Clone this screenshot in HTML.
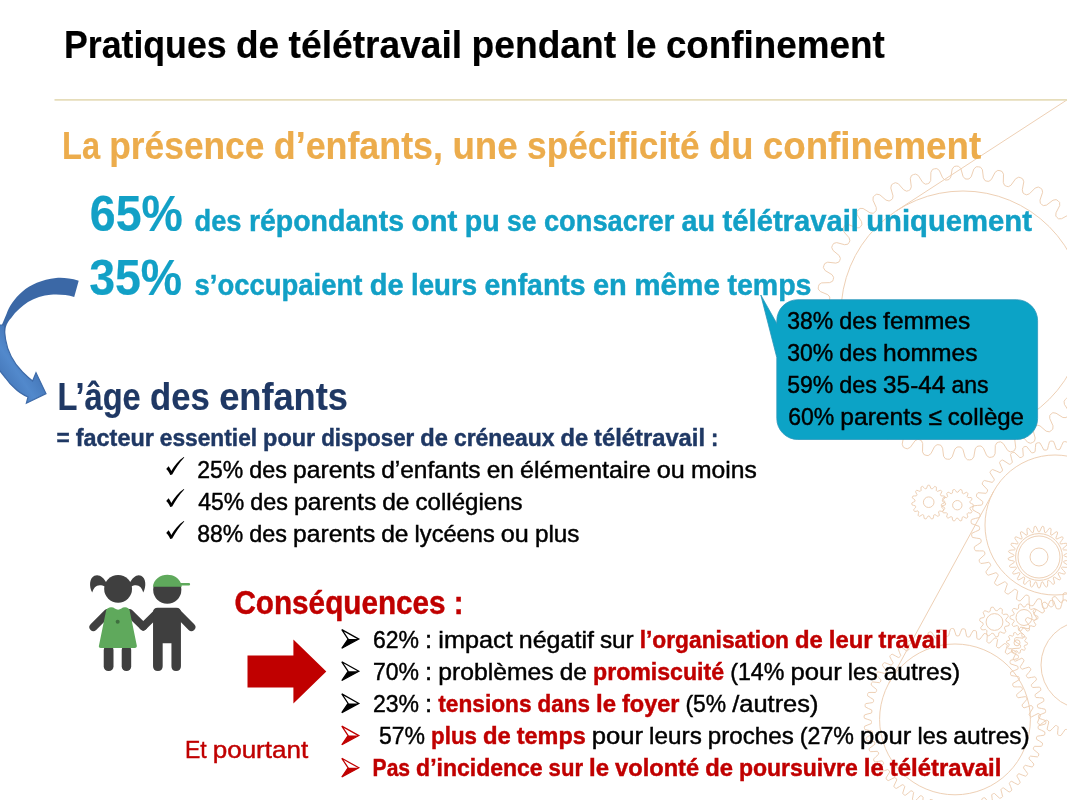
<!DOCTYPE html>
<html lang="fr"><head><meta charset="utf-8"><title>Pratiques de télétravail pendant le confinement</title>
<style>html,body{margin:0;padding:0;background:#fff}body{width:1067px;height:800px;overflow:hidden}svg{display:block}text{font-family:"Liberation Sans",sans-serif;white-space:pre}</style></head><body>
<svg width="1067" height="800" viewBox="0 0 1067 800">
<rect width="1067" height="800" fill="#fff"/>
<g fill="none" stroke="#EED0B5" stroke-width="1">
<path d="M1107.3 313 1109.8 315.2 1109.9 317.4 1109.7 319.6 1107.3 321.6 1099.3 323.2 1096.7 325 1096.3 327 1096.2 329 1098.2 331.3 1105.7 334.5 1107.8 337 1107.6 339.2 1107 341.4 1104.4 343.1 1096.3 343.4 1093.4 344.8 1092.7 346.7 1092.4 348.7 1094 351.3 1100.9 355.5 1102.6 358.4 1102.1 360.5 1101.2 362.5 1098.3 363.8 1090.2 362.9 1087.2 363.9 1086.2 365.7 1085.6 367.6 1086.8 370.4 1093 375.6 1094.3 378.7 1093.5 380.7 1092.3 382.6 1089.3 383.4 1081.4 381.3 1078.2 381.8 1077 383.4 1076.1 385.2 1076.9 388.2 1082.2 394.3 1083 397.5 1081.9 399.4 1080.5 401.1 1077.4 401.4 1069.9 398.2 1066.7 398.2 1065.2 399.6 1064.1 401.3 1064.4 404.3 1068.8 411.2 1069.1 414.4 1067.7 416.2 1066 417.6 1062.9 417.5 1056 413.2 1052.8 412.7 1051.2 413.9 1049.8 415.4 1049.7 418.4 1053 425.8 1052.8 429.1 1051.2 430.6 1049.3 431.8 1046.2 431.2 1040 425.9 1036.9 425 1035.1 425.9 1033.5 427.2 1033 430.1 1035.2 438 1034.5 441.2 1032.7 442.4 1030.6 443.3 1027.7 442.3 1022.3 436.2 1019.4 434.8 1017.5 435.4 1015.7 436.4 1014.7 439.2 1015.7 447.3 1014.6 450.4 1012.6 451.4 1010.4 451.9 1007.7 450.5 1003.3 443.6 1000.6 441.8 998.6 442.2 996.8 442.9 995.3 445.5 995.1 453.7 993.5 456.6 991.4 457.2 989.2 457.4 986.7 455.6 983.4 448.2 981 446 979 446 977 446.5 975.2 448.9 973.8 456.9 971.8 459.5 969.6 459.9 967.4 459.7 965.2 457.5 963 449.7 961 447.2 959 446.9 957 447.1 954.8 449.2 952.2 456.9 949.8 459.2 947.6 459.2 945.5 458.8 943.6 456.3 942.6 448.2 941 445.4 939.1 444.8 937.1 444.7 934.6 446.5 930.9 453.7 928.2 455.6 926 455.3 923.9 454.5 922.5 451.8 922.7 443.6 921.5 440.7 919.7 439.8 917.7 439.3 915.1 440.7 910.3 447.3 907.3 448.8 905.2 448.2 903.3 447.1 902.2 444.2 903.7 436.2 903 433 901.3 431.9 899.4 431.2 896.6 432.2 890.8 438 887.7 439 885.7 438 884 436.7 883.4 433.7 886 425.9 885.7 422.8 884.2 421.4 882.5 420.4 879.5 420.9 873 425.8 869.8 426.4 867.9 425.1 866.4 423.6 866.3 420.4 870 413.2 870.2 410 869 408.5 867.4 407.2 864.4 407.3 857.2 411.2 853.9 411.2 852.3 409.7 851 407.9 851.3 404.8 856.1 398.2 856.8 395.1 855.8 393.4 854.4 391.9 851.4 391.5 843.8 394.3 840.5 393.9 839.1 392.1 838.1 390.2 838.9 387.1 844.6 381.3 845.8 378.4 845 376.5 843.9 374.8 841 374 833 375.6 829.8 374.7 828.7 372.8 828 370.7 829.2 367.8 835.8 362.9 837.3 360.2 836.9 358.2 836 356.4 833.2 355.2 825.1 355.5 822.1 354.2 821.3 352.1 820.9 349.9 822.6 347.3 829.7 343.4 831.7 340.9 831.5 338.9 831 337 828.4 335.4 820.3 334.5 817.5 332.7 817.1 330.6 817 328.3 819 326 826.7 323.2 829 321 829.1 319 828.9 317 826.6 315 818.7 313 816.2 310.8 816.1 308.6 816.3 306.4 818.7 304.4 826.7 302.8 829.3 301 829.7 299 829.8 297 827.8 294.7 820.3 291.5 818.2 289 818.4 286.8 819 284.6 821.6 282.9 829.7 282.6 832.6 281.2 833.3 279.3 833.6 277.3 832 274.7 825.1 270.5 823.4 267.6 823.9 265.5 824.8 263.5 827.7 262.2 835.8 263.1 838.8 262.1 839.8 260.3 840.4 258.4 839.2 255.6 833 250.4 831.7 247.3 832.5 245.3 833.7 243.4 836.7 242.6 844.6 244.7 847.8 244.2 849 242.6 849.9 240.8 849.1 237.8 843.8 231.7 843 228.5 844.1 226.6 845.5 224.9 848.6 224.6 856.1 227.8 859.3 227.8 860.8 226.4 861.9 224.7 861.6 221.7 857.2 214.8 856.9 211.6 858.3 209.8 860 208.4 863.1 208.5 870 212.8 873.2 213.3 874.8 212.1 876.2 210.6 876.3 207.6 873 200.2 873.2 196.9 874.8 195.4 876.7 194.2 879.8 194.8 886 200.1 889.1 201 890.9 200.1 892.5 198.8 893 195.9 890.8 188 891.5 184.8 893.3 183.6 895.4 182.7 898.3 183.7 903.7 189.8 906.6 191.2 908.5 190.6 910.3 189.6 911.3 186.8 910.3 178.7 911.4 175.6 913.4 174.6 915.6 174.1 918.3 175.5 922.7 182.4 925.4 184.2 927.4 183.8 929.2 183.1 930.7 180.5 930.9 172.3 932.5 169.4 934.6 168.8 936.8 168.6 939.3 170.4 942.6 177.8 945 180 947 180 949 179.5 950.8 177.1 952.2 169.1 954.2 166.5 956.4 166.1 958.6 166.3 960.8 168.5 963 176.3 965 178.8 967 179.1 969 178.9 971.2 176.8 973.8 169.1 976.2 166.8 978.4 166.8 980.5 167.2 982.4 169.7 983.4 177.8 985 180.6 986.9 181.2 988.9 181.3 991.4 179.5 995.1 172.3 997.8 170.4 1000 170.7 1002.1 171.5 1003.5 174.2 1003.3 182.4 1004.5 185.3 1006.3 186.2 1008.3 186.7 1010.9 185.3 1015.7 178.7 1018.7 177.2 1020.8 177.8 1022.7 178.9 1023.8 181.8 1022.3 189.8 1023 193 1024.7 194.1 1026.6 194.8 1029.4 193.8 1035.2 188 1038.3 187 1040.3 188 1042 189.3 1042.6 192.3 1040 200.1 1040.3 203.2 1041.8 204.6 1043.5 205.6 1046.5 205.1 1053 200.2 1056.2 199.6 1058.1 200.9 1059.6 202.4 1059.7 205.6 1056 212.8 1055.8 216 1057 217.5 1058.6 218.8 1061.6 218.7 1068.8 214.8 1072.1 214.8 1073.7 216.3 1075 218.1 1074.7 221.2 1069.9 227.8 1069.2 230.9 1070.2 232.6 1071.6 234.1 1074.6 234.5 1082.2 231.7 1085.5 232.1 1086.9 233.9 1087.9 235.8 1087.1 238.9 1081.4 244.7 1080.2 247.6 1081 249.5 1082.1 251.2 1085 252 1093 250.4 1096.2 251.3 1097.3 253.2 1098 255.3 1096.8 258.2 1090.2 263.1 1088.7 265.8 1089.1 267.8 1090 269.6 1092.8 270.8 1100.9 270.5 1103.9 271.8 1104.7 273.9 1105.1 276.1 1103.4 278.7 1096.3 282.6 1094.3 285.1 1094.5 287.1 1095 289 1097.6 290.6 1105.7 291.5 1108.5 293.3 1108.9 295.4 1109 297.7 1107 300 1099.3 302.8 1097 305 1096.9 307 1097.1 309 1099.4 311Z"/>
<circle cx="963" cy="313" r="122"/>
<path d="M1075 94.7L896.5 210.7"/>
<path d="M1134.8 525 1138.5 526.4 1138.9 527.8 1138.9 529.2 1138.3 530.5 1134.5 531.6 1130.6 532.5 1130 533.7 1129.9 535 1130.2 536.3 1133.7 538.1 1137.1 540.1 1137.3 541.6 1137 542.9 1136.3 544.2 1132.3 544.6 1128.4 544.9 1127.6 546 1127.2 547.1 1127.3 548.5 1130.4 550.9 1133.5 553.4 1133.5 554.9 1133 556.2 1132 557.3 1128 557 1124.1 556.7 1123.1 557.6 1122.6 558.7 1122.4 560.1 1125.1 563 1127.8 565.9 1127.5 567.4 1126.8 568.6 1125.6 569.5 1121.8 568.6 1117.9 567.6 1116.8 568.4 1116.1 569.4 1115.7 570.7 1117.9 574 1120 577.4 1119.5 578.7 1118.6 579.8 1117.4 580.5 1113.7 579 1110.1 577.4 1108.8 578 1108 578.8 1107.4 580.1 1109 583.7 1110.5 587.4 1109.8 588.6 1108.7 589.5 1107.4 590 1104 587.9 1100.7 585.7 1099.4 586.1 1098.4 586.8 1097.6 587.9 1098.6 591.8 1099.5 595.6 1098.6 596.8 1097.4 597.5 1095.9 597.8 1093 595.1 1090.1 592.4 1088.7 592.6 1087.6 593.1 1086.7 594.1 1087 598 1087.3 602 1086.2 603 1084.9 603.5 1083.4 603.5 1080.9 600.4 1078.5 597.3 1077.1 597.2 1076 597.6 1074.9 598.4 1074.6 602.3 1074.2 606.3 1072.9 607 1071.6 607.3 1070.1 607.1 1068.1 603.7 1066.3 600.2 1065 599.9 1063.7 600 1062.5 600.6 1061.6 604.5 1060.5 608.3 1059.2 608.9 1057.8 608.9 1056.4 608.5 1055 604.8 1053.7 601 1052.5 600.5 1051.3 600.4 1050 600.8 1048.4 604.5 1046.7 608.1 1045.3 608.4 1043.9 608.2 1042.6 607.6 1041.9 603.7 1041.3 599.8 1040.1 599 1038.9 598.8 1037.6 599 1035.4 602.3 1033.2 605.6 1031.7 605.7 1030.4 605.3 1029.2 604.4 1029.1 600.4 1029.1 596.5 1028.1 595.6 1027 595.1 1025.6 595.1 1023 598 1020.2 600.9 1018.7 600.7 1017.5 600.1 1016.5 599.1 1017 595.1 1017.7 591.2 1016.9 590.2 1015.8 589.6 1014.5 589.3 1011.4 591.8 1008.2 594.1 1006.8 593.7 1005.6 592.9 1004.8 591.7 1006 587.9 1007.3 584.2 1006.7 583 1005.7 582.2 1004.5 581.8 1001 583.7 997.4 585.5 996.1 584.9 995.1 583.9 994.5 582.6 996.3 579 998.2 575.5 997.8 574.3 997 573.3 995.8 572.7 992.1 574 988.3 575.2 987.1 574.4 986.3 573.2 985.9 571.8 988.2 568.6 990.7 565.5 990.4 564.2 989.8 563.1 988.8 562.3 984.9 563 980.9 563.5 979.9 562.5 979.3 561.3 979.1 559.8 982 557 984.9 554.4 984.9 553 984.4 551.9 983.5 550.9 979.6 550.9 975.6 550.8 974.7 549.6 974.3 548.3 974.4 546.8 977.7 544.6 981 542.4 981.2 541.1 981 539.9 980.2 538.7 976.3 538.1 972.4 537.4 971.8 536.1 971.6 534.7 971.9 533.3 975.5 531.6 979.2 530 979.6 528.7 979.5 527.5 979 526.3 975.3 525 971.5 523.6 971.1 522.2 971.1 520.8 971.7 519.5 975.5 518.4 979.4 517.5 980 516.3 980.1 515 979.8 513.7 976.3 511.9 972.9 509.9 972.7 508.4 973 507.1 973.7 505.8 977.7 505.4 981.6 505.1 982.4 504 982.8 502.9 982.7 501.5 979.6 499.1 976.5 496.6 976.5 495.1 977 493.8 978 492.7 982 493 985.9 493.3 986.9 492.4 987.4 491.3 987.6 489.9 984.9 487 982.2 484.1 982.5 482.6 983.2 481.4 984.4 480.5 988.2 481.4 992.1 482.4 993.2 481.6 993.9 480.6 994.3 479.3 992.1 476 990 472.6 990.5 471.3 991.4 470.2 992.6 469.5 996.3 471 999.9 472.6 1001.2 472 1002 471.2 1002.6 469.9 1001 466.3 999.5 462.6 1000.2 461.4 1001.3 460.5 1002.6 460 1006 462.1 1009.3 464.3 1010.6 463.9 1011.6 463.2 1012.4 462.1 1011.4 458.2 1010.5 454.4 1011.4 453.2 1012.6 452.5 1014.1 452.2 1017 454.9 1019.9 457.6 1021.3 457.4 1022.4 456.9 1023.3 455.9 1023 452 1022.7 448 1023.8 447 1025.1 446.5 1026.6 446.5 1029.1 449.6 1031.5 452.7 1032.9 452.8 1034 452.4 1035.1 451.6 1035.4 447.7 1035.8 443.7 1037.1 443 1038.4 442.7 1039.9 442.9 1041.9 446.3 1043.7 449.8 1045 450.1 1046.3 450 1047.5 449.4 1048.4 445.5 1049.5 441.7 1050.8 441.1 1052.2 441.1 1053.6 441.5 1055 445.2 1056.3 449 1057.5 449.5 1058.7 449.6 1060 449.2 1061.6 445.5 1063.3 441.9 1064.7 441.6 1066.1 441.8 1067.4 442.4 1068.1 446.3 1068.7 450.2 1069.9 451 1071.1 451.2 1072.4 451 1074.6 447.7 1076.8 444.4 1078.3 444.3 1079.6 444.7 1080.8 445.6 1080.9 449.6 1080.9 453.5 1081.9 454.4 1083 454.9 1084.4 454.9 1087 452 1089.8 449.1 1091.3 449.3 1092.5 449.9 1093.5 450.9 1093 454.9 1092.3 458.8 1093.1 459.8 1094.2 460.4 1095.5 460.7 1098.6 458.2 1101.8 455.9 1103.2 456.3 1104.4 457.1 1105.2 458.3 1104 462.1 1102.7 465.8 1103.3 467 1104.3 467.8 1105.5 468.2 1109 466.3 1112.6 464.5 1113.9 465.1 1114.9 466.1 1115.5 467.4 1113.7 471 1111.8 474.5 1112.2 475.7 1113 476.7 1114.2 477.3 1117.9 476 1121.7 474.8 1122.9 475.6 1123.7 476.8 1124.1 478.2 1121.8 481.4 1119.3 484.5 1119.6 485.8 1120.2 486.9 1121.2 487.7 1125.1 487 1129.1 486.5 1130.1 487.5 1130.7 488.7 1130.9 490.2 1128 493 1125.1 495.6 1125.1 497 1125.6 498.1 1126.5 499.1 1130.4 499.1 1134.4 499.2 1135.3 500.4 1135.7 501.7 1135.6 503.2 1132.3 505.4 1129 507.6 1128.8 508.9 1129 510.1 1129.8 511.3 1133.7 511.9 1137.6 512.6 1138.2 513.9 1138.4 515.3 1138.1 516.7 1134.5 518.4 1130.8 520 1130.4 521.3 1130.5 522.5 1131 523.7Z"/>
<circle cx="1055" cy="525" r="70"/>
<path d="M1067 557 1069.5 558 1069.9 558.9 1069.3 559.9 1066.8 560.5 1064.2 561 1063.6 561.7 1063.9 562.6 1066.1 564 1068.3 565.5 1068.5 566.6 1067.7 567.3 1065 567.3 1062.4 567.1 1061.6 567.6 1061.7 568.6 1063.5 570.5 1065.2 572.5 1065.2 573.6 1064.2 574.1 1061.7 573.5 1059.2 572.6 1058.3 572.9 1058.1 573.9 1059.4 576.2 1060.6 578.6 1060.2 579.6 1059.2 579.9 1056.8 578.6 1054.6 577.2 1053.7 577.2 1053.3 578.1 1054 580.6 1054.5 583.2 1053.9 584.2 1052.8 584.2 1050.9 582.3 1049.1 580.4 1048.2 580.2 1047.6 581 1047.7 583.6 1047.5 586.3 1046.7 587 1045.6 586.7 1044.2 584.5 1043 582.2 1042.1 581.8 1041.4 582.4 1040.8 584.9 1040 587.5 1039 588 1038 587.5 1037.2 584.9 1036.6 582.4 1035.9 581.8 1035 582.2 1033.8 584.5 1032.4 586.7 1031.3 587 1030.5 586.3 1030.3 583.6 1030.4 581 1029.8 580.2 1028.9 580.4 1027.1 582.3 1025.2 584.2 1024.1 584.2 1023.5 583.2 1024 580.6 1024.7 578.1 1024.3 577.2 1023.4 577.2 1021.2 578.6 1018.8 579.9 1017.8 579.6 1017.4 578.6 1018.6 576.2 1019.9 573.9 1019.7 572.9 1018.8 572.6 1016.3 573.5 1013.8 574.1 1012.8 573.6 1012.8 572.5 1014.5 570.5 1016.3 568.6 1016.4 567.6 1015.6 567.1 1013 567.3 1010.3 567.3 1009.5 566.6 1009.7 565.5 1011.9 564 1014.1 562.6 1014.4 561.7 1013.8 561 1011.2 560.5 1008.7 559.9 1008.1 558.9 1008.5 558 1011 557 1013.5 556.2 1014 555.4 1013.6 554.6 1011.2 553.5 1008.9 552.2 1008.5 551.2 1009.3 550.4 1011.9 550 1014.5 549.9 1015.2 549.3 1015 548.4 1013 546.7 1011 544.9 1011 543.8 1011.8 543.2 1014.5 543.5 1017 544 1017.9 543.6 1017.9 542.7 1016.3 540.5 1014.9 538.3 1015.1 537.2 1016.1 536.8 1018.6 537.8 1021 539 1021.9 538.8 1022.1 537.9 1021.2 535.4 1020.3 532.9 1020.8 531.9 1021.9 531.8 1024 533.4 1026 535 1027 535.1 1027.4 534.3 1027.1 531.7 1026.9 529 1027.6 528.2 1028.7 528.3 1030.3 530.4 1031.9 532.5 1032.8 532.8 1033.4 532.1 1033.8 529.5 1034.2 526.9 1035.1 526.2 1036.1 526.7 1037.2 529.1 1038.2 531.5 1039 532 1039.8 531.5 1040.8 529.1 1041.9 526.7 1042.9 526.2 1043.8 526.9 1044.2 529.5 1044.6 532.1 1045.2 532.8 1046.1 532.5 1047.7 530.4 1049.3 528.3 1050.4 528.2 1051.1 529 1050.9 531.7 1050.6 534.3 1051 535.1 1052 535 1054 533.4 1056.1 531.8 1057.2 531.9 1057.7 532.9 1056.8 535.4 1055.9 537.9 1056.1 538.8 1057 539 1059.4 537.8 1061.9 536.8 1062.9 537.2 1063.1 538.3 1061.7 540.5 1060.1 542.7 1060.1 543.6 1061 544 1063.5 543.5 1066.2 543.2 1067 543.8 1067 544.9 1065 546.7 1063 548.4 1062.8 549.3 1063.5 549.9 1066.1 550 1068.7 550.4 1069.5 551.2 1069.1 552.2 1066.8 553.5 1064.4 554.6 1064 555.4 1064.5 556.2Z"/>
<circle cx="1039" cy="557" r="23.4"/><circle cx="1039" cy="557" r="21"/><circle cx="1039" cy="557" r="9"/>
<path d="M944.1 502.2 945.6 503.1 945.6 504 945.4 504.8 943.8 505.4 942.1 505.8 941.8 506.5 941.7 507.2 942.8 508.5 943.8 509.9 943.4 510.7 942.9 511.4 941.2 511.3 939.5 510.9 939 511.4 938.5 512 939 513.6 939.3 515.3 938.7 516 937.9 516.4 936.4 515.5 935 514.6 934.3 514.8 933.7 515.2 933.5 516.8 933.1 518.5 932.2 518.8 931.3 518.9 930.3 517.5 929.4 516.1 928.7 516 928 516.1 927.1 517.5 926.1 518.9 925.2 518.8 924.3 518.5 923.9 516.8 923.7 515.2 923.1 514.8 922.4 514.6 921 515.5 919.5 516.4 918.7 516 918.1 515.3 918.4 513.6 918.9 512 918.4 511.4 917.9 510.9 916.2 511.3 914.5 511.4 914 510.7 913.6 509.9 914.6 508.5 915.7 507.2 915.6 506.5 915.3 505.8 913.6 505.4 912 504.8 911.8 504 911.8 503.1 913.3 502.2 914.8 501.5 915 500.8 915 500 913.6 499 912.4 497.8 912.5 496.9 912.9 496.1 914.6 495.9 916.3 495.9 916.7 495.3 917 494.6 916.2 493.1 915.6 491.6 916.1 490.8 916.7 490.2 918.4 490.8 920 491.4 920.6 491 921.1 490.5 921 488.9 921 487.1 921.8 486.7 922.6 486.4 923.9 487.6 925.1 488.8 925.8 488.7 926.5 488.5 927.1 486.9 927.8 485.3 928.7 485.2 929.6 485.3 930.3 486.9 930.9 488.5 931.6 488.7 932.3 488.8 933.5 487.6 934.8 486.4 935.6 486.7 936.4 487.1 936.4 488.9 936.3 490.5 936.8 491 937.4 491.4 939 490.8 940.7 490.2 941.3 490.8 941.8 491.6 941.2 493.1 940.4 494.6 940.7 495.3 941.1 495.9 942.8 495.9 944.5 496.1 944.9 496.9 945 497.8 943.8 499 942.4 500 942.4 500.8 942.6 501.5Z"/><circle cx="928.7" cy="502.2" r="5.3"/>
<path d="M973.3 505.2 973.2 506.1 971.9 506.9 970.2 507.4 970 508.1 969.9 508.8 970.8 509.9 972 511.3 971.7 512.1 971.2 512.9 969.8 513 968 512.8 967.5 513.3 967 513.9 967.4 515.3 967.9 517 967.3 517.7 966.5 518.2 965.1 517.7 963.6 516.7 962.9 516.9 962.3 517.3 962 518.7 961.7 520.5 960.9 520.8 960 520.9 959 519.8 958 518.3 957.3 518.2 956.6 518.2 955.7 519.4 954.6 520.9 953.7 520.8 952.9 520.5 952.4 519.1 952.3 517.3 951.7 516.9 951 516.6 949.7 517.3 948.1 518.1 947.3 517.7 946.7 517.1 946.9 515.6 947.5 513.9 947.1 513.3 946.6 512.8 945.2 512.8 943.4 512.9 942.9 512.1 942.6 511.3 943.4 510.1 944.7 508.8 944.6 508.1 944.4 507.4 943.1 506.8 941.5 506.1 941.3 505.2 941.4 504.3 942.7 503.5 944.4 503 944.6 502.3 944.7 501.6 943.8 500.5 942.6 499.1 942.9 498.3 943.4 497.5 944.8 497.4 946.6 497.6 947.1 497.1 947.6 496.5 947.2 495.1 946.7 493.4 947.3 492.7 948.1 492.2 949.5 492.7 951 493.7 951.7 493.5 952.3 493.1 952.6 491.7 952.9 489.9 953.7 489.6 954.6 489.5 955.6 490.6 956.6 492.1 957.3 492.2 958 492.2 958.9 491 960 489.5 960.9 489.6 961.7 489.9 962.2 491.3 962.3 493.1 962.9 493.5 963.6 493.8 964.9 493.1 966.5 492.3 967.3 492.7 967.9 493.3 967.7 494.8 967.1 496.5 967.5 497.1 968 497.6 969.4 497.6 971.2 497.5 971.7 498.3 972 499.1 971.2 500.3 969.9 501.6 970 502.3 970.2 503 971.5 503.6 973.1 504.3Z"/><circle cx="957.3" cy="505.2" r="4.7"/>
<path d="M1007.8 622 1009.3 623.2 1009.3 624.3 1009 625.5 1007.1 626.1 1005.2 626.4 1004.7 627.2 1004.4 628.1 1005.2 629.8 1005.8 631.7 1005.1 632.6 1004.2 633.3 1002.3 632.7 1000.6 631.9 999.7 632.2 998.9 632.7 998.6 634.6 998 636.5 996.8 636.8 995.7 636.8 994.5 635.2 993.6 633.6 992.7 633.4 991.8 633.3 990.4 634.6 988.8 635.8 987.7 635.4 986.7 634.7 986.7 632.7 987 630.8 986.4 630.1 985.7 629.5 983.8 629.8 981.8 629.8 981.1 628.8 980.7 627.7 981.9 626.1 983.2 624.7 983.1 623.8 982.9 622.9 981.2 622 979.7 620.8 979.7 619.7 980 618.5 981.9 617.9 983.8 617.6 984.3 616.8 984.6 615.9 983.8 614.2 983.2 612.3 983.9 611.4 984.8 610.7 986.7 611.3 988.4 612.1 989.3 611.8 990.1 611.3 990.4 609.4 991 607.5 992.2 607.2 993.3 607.2 994.5 608.8 995.4 610.4 996.3 610.6 997.2 610.7 998.6 609.4 1000.2 608.2 1001.3 608.6 1002.3 609.3 1002.3 611.3 1002 613.2 1002.6 613.9 1003.3 614.5 1005.2 614.2 1007.2 614.2 1007.9 615.2 1008.3 616.3 1007.1 617.9 1005.8 619.3 1005.9 620.2 1006.1 621.1Z"/><circle cx="994.5" cy="622" r="8.4"/>
<path d="M1038 617.5 1037.9 618.6 1036.4 619.5 1034.4 620 1034 620.7 1033.8 621.5 1034.7 622.9 1035.8 624.7 1035.3 625.7 1034.6 626.5 1032.9 626.4 1030.9 625.6 1030.2 626 1029.5 626.5 1029.4 628.2 1029.3 630.3 1028.3 630.8 1027.2 631 1026 629.9 1024.8 628.1 1024 628 1023.2 628 1022.1 629.3 1020.8 631 1019.7 630.8 1018.7 630.4 1018.3 628.7 1018.4 626.6 1017.8 626 1017.1 625.5 1015.5 626 1013.5 626.5 1012.7 625.7 1012.1 624.8 1012.8 623.2 1014.2 621.6 1014 620.7 1013.7 620 1012.2 619.4 1010.2 618.6 1010 617.5 1010.1 616.4 1011.6 615.5 1013.6 615 1014 614.3 1014.2 613.5 1013.3 612.1 1012.2 610.3 1012.7 609.3 1013.4 608.5 1015.1 608.6 1017.1 609.4 1017.8 609 1018.5 608.5 1018.6 606.8 1018.7 604.7 1019.7 604.2 1020.8 604 1022 605.1 1023.2 606.9 1024 607 1024.8 607 1025.9 605.7 1027.2 604 1028.3 604.2 1029.3 604.6 1029.7 606.3 1029.6 608.4 1030.2 609 1030.9 609.5 1032.5 609 1034.5 608.5 1035.3 609.3 1035.9 610.2 1035.2 611.8 1033.8 613.4 1034 614.3 1034.3 615 1035.8 615.6 1037.8 616.4Z"/><circle cx="1024" cy="617.5" r="8"/>
<path d="M1027.4 642.8 1027.5 643.6 1027.3 644.4 1026.2 645 1024.7 645.3 1024.4 645.9 1024.2 646.5 1024.7 647.5 1025.4 648.9 1025 649.6 1024.4 650.2 1023.2 650 1021.8 649.4 1021.2 649.6 1020.7 650 1020.4 651.1 1020.2 652.7 1019.5 653 1018.6 653.1 1017.7 652.3 1017 650.9 1016.4 650.8 1015.7 650.8 1014.9 651.6 1013.8 652.7 1013 652.5 1012.3 652.1 1012 650.9 1012.2 649.4 1011.8 648.9 1011.3 648.5 1010.1 648.7 1008.6 648.9 1008 648.3 1007.7 647.5 1008.2 646.4 1009.3 645.3 1009.2 644.7 1009 644.1 1008 643.5 1006.6 642.8 1006.5 642 1006.7 641.2 1007.8 640.6 1009.3 640.3 1009.6 639.7 1009.8 639.1 1009.3 638.1 1008.6 636.7 1009 636 1009.6 635.4 1010.8 635.6 1012.2 636.2 1012.8 636 1013.3 635.6 1013.6 634.5 1013.8 632.9 1014.5 632.6 1015.4 632.5 1016.3 633.3 1017 634.7 1017.6 634.8 1018.3 634.8 1019.1 634 1020.2 632.9 1021 633.1 1021.7 633.5 1022 634.7 1021.8 636.2 1022.2 636.7 1022.7 637.1 1023.9 636.9 1025.4 636.7 1026 637.3 1026.3 638.1 1025.8 639.2 1024.7 640.3 1024.8 640.9 1025 641.5 1026 642.1Z"/><circle cx="1017" cy="642.8" r="3"/>
<path d="M1042.2 719.4 1045.5 720.5 1045.9 721.7 1045.9 722.8 1045.4 723.9 1042.1 724.9 1038.7 725.7 1038.2 726.7 1038.1 727.8 1038.4 728.9 1041.6 730.3 1044.7 731.9 1044.9 733.1 1044.8 734.2 1044.2 735.2 1040.7 735.7 1037.3 736.2 1036.6 737.1 1036.4 738.1 1036.6 739.3 1039.5 741.1 1042.4 743 1042.5 744.2 1042.2 745.3 1041.5 746.3 1038 746.4 1034.5 746.3 1033.8 747.2 1033.4 748.2 1033.4 749.3 1036.1 751.5 1038.8 753.8 1038.7 755 1038.3 756.1 1037.4 756.9 1033.9 756.5 1030.5 756.1 1029.7 756.8 1029.2 757.8 1029.1 758.9 1031.5 761.4 1033.8 764 1033.6 765.2 1033 766.2 1032.1 767 1028.7 766.2 1025.3 765.3 1024.4 765.9 1023.8 766.8 1023.5 767.9 1025.6 770.7 1027.6 773.5 1027.2 774.7 1026.5 775.6 1025.5 776.2 1022.2 775 1019 773.7 1018 774.2 1017.3 775 1016.9 776.1 1018.6 779.1 1020.2 782.2 1019.7 783.3 1018.9 784.1 1017.8 784.6 1014.7 783 1011.7 781.3 1010.6 781.7 1009.8 782.4 1009.3 783.4 1010.6 786.6 1011.8 789.9 1011.2 790.9 1010.3 791.6 1009.1 792 1006.3 790 1003.5 787.9 1002.4 788.2 1001.5 788.8 1000.9 789.7 1001.8 793.1 1002.6 796.5 1001.8 797.4 1000.8 798 999.6 798.2 997 795.9 994.5 793.5 993.4 793.6 992.4 794.1 991.7 794.9 992.1 798.3 992.5 801.8 991.7 802.7 990.6 803.1 989.4 803.2 987.1 800.5 984.9 797.8 983.8 797.8 982.8 798.2 981.9 798.9 982 802.4 981.9 805.9 980.9 806.6 979.8 806.9 978.6 806.8 976.7 803.9 974.9 801 973.7 800.8 972.7 801 971.8 801.7 971.3 805.1 970.8 808.6 969.8 809.2 968.7 809.3 967.5 809.1 965.9 806 964.5 802.8 963.4 802.5 962.3 802.6 961.3 803.1 960.5 806.5 959.5 809.8 958.4 810.3 957.3 810.3 956.1 809.9 955 806.6 953.9 803.3 952.9 802.9 951.9 802.9 950.8 803.2 949.5 806.5 948.2 809.7 947 810 945.9 809.9 944.8 809.4 944.1 806 943.4 802.5 942.5 802 941.4 801.8 940.3 802 938.7 805.1 936.9 808.1 935.7 808.3 934.6 808.1 933.6 807.4 933.3 803.9 933.1 800.4 932.2 799.8 931.2 799.5 930.1 799.6 928 802.4 925.9 805.2 924.7 805.2 923.6 804.8 922.7 804 922.9 800.5 923.1 797.1 922.3 796.3 921.3 795.8 920.2 795.8 917.9 798.3 915.4 800.8 914.2 800.7 913.2 800.2 912.4 799.3 913 795.9 913.6 792.4 912.9 791.6 912 791 910.9 790.8 908.2 793.1 905.5 795.2 904.3 795 903.4 794.3 902.7 793.3 903.7 790 904.8 786.7 904.2 785.7 903.4 785.1 902.3 784.7 899.4 786.6 896.4 788.4 895.3 788 894.4 787.3 893.8 786.2 895.3 783 896.8 779.9 896.3 778.8 895.6 778.1 894.5 777.6 891.4 779.1 888.2 780.6 887.1 780 886.4 779.1 886 778 887.8 775 889.7 772.1 889.3 771 888.7 770.2 887.7 769.6 884.4 770.7 881.1 771.7 880.1 771 879.4 770.1 879.2 768.9 881.3 766.2 883.6 763.5 883.4 762.4 882.8 761.5 882 760.8 878.5 761.4 875.1 762 874.2 761.2 873.7 760.2 873.6 759 876.1 756.5 878.6 754.2 878.6 753.1 878.1 752.1 877.3 751.3 873.9 751.5 870.4 751.7 869.6 750.8 869.2 749.7 869.2 748.5 872 746.4 874.8 744.3 874.9 743.2 874.6 742.2 874 741.3 870.5 741.1 867 740.8 866.3 739.8 866.1 738.7 866.3 737.5 869.3 735.7 872.4 734.1 872.6 733 872.4 731.9 871.9 731 868.4 730.3 865 729.6 864.5 728.5 864.4 727.4 864.7 726.2 867.9 724.9 871.2 723.6 871.5 722.5 871.5 721.5 871.1 720.5 867.8 719.4 864.5 718.3 864.1 717.1 864.1 716 864.6 714.9 867.9 713.9 871.3 713.1 871.8 712.1 871.9 711 871.6 709.9 868.4 708.5 865.3 706.9 865.1 705.7 865.2 704.6 865.8 703.6 869.3 703.1 872.7 702.6 873.4 701.7 873.6 700.7 873.4 699.5 870.5 697.7 867.6 695.8 867.5 694.6 867.8 693.5 868.5 692.5 872 692.4 875.5 692.5 876.2 691.6 876.6 690.6 876.6 689.5 873.9 687.3 871.2 685 871.3 683.8 871.7 682.7 872.6 681.9 876.1 682.3 879.5 682.7 880.3 682 880.8 681 880.9 679.9 878.5 677.4 876.2 674.8 876.4 673.6 877 672.6 877.9 671.8 881.3 672.6 884.7 673.5 885.6 672.9 886.2 672 886.5 670.9 884.4 668.1 882.4 665.3 882.8 664.1 883.5 663.2 884.5 662.6 887.8 663.8 891 665.1 892 664.6 892.7 663.8 893.1 662.7 891.4 659.7 889.8 656.6 890.3 655.5 891.1 654.7 892.2 654.2 895.3 655.8 898.3 657.5 899.4 657.1 900.2 656.4 900.7 655.4 899.4 652.2 898.2 648.9 898.8 647.9 899.7 647.2 900.9 646.8 903.7 648.8 906.5 650.9 907.6 650.6 908.5 650 909.1 649.1 908.2 645.7 907.4 642.3 908.2 641.4 909.2 640.8 910.4 640.6 913 642.9 915.5 645.3 916.6 645.2 917.6 644.7 918.3 643.9 917.9 640.5 917.5 637 918.3 636.1 919.4 635.7 920.6 635.6 922.9 638.3 925.1 641 926.2 641 927.2 640.6 928.1 639.9 928 636.4 928.1 632.9 929.1 632.2 930.2 631.9 931.4 632 933.3 634.9 935.1 637.8 936.3 638 937.3 637.8 938.2 637.1 938.7 633.7 939.2 630.2 940.2 629.6 941.3 629.5 942.5 629.7 944.1 632.8 945.5 636 946.6 636.3 947.7 636.2 948.7 635.7 949.5 632.3 950.5 629 951.6 628.5 952.7 628.5 953.9 628.9 955 632.1 956.1 635.5 957.1 635.9 958.1 635.9 959.2 635.6 960.5 632.3 961.8 629.1 963 628.8 964.1 628.9 965.2 629.4 965.9 632.8 966.6 636.3 967.5 636.8 968.6 637 969.7 636.8 971.3 633.7 973.1 630.7 974.3 630.5 975.4 630.7 976.4 631.4 976.7 634.9 976.9 638.4 977.8 639 978.8 639.3 979.9 639.2 982 636.4 984.1 633.6 985.3 633.6 986.4 634 987.3 634.8 987.1 638.3 986.9 641.7 987.7 642.5 988.7 643 989.8 643 992.1 640.5 994.6 638 995.8 638.1 996.8 638.6 997.6 639.5 997 642.9 996.4 646.4 997.1 647.2 998 647.8 999.1 648 1001.8 645.7 1004.5 643.6 1005.7 643.8 1006.6 644.5 1007.3 645.5 1006.3 648.8 1005.2 652.1 1005.8 653.1 1006.6 653.7 1007.7 654.1 1010.6 652.2 1013.6 650.4 1014.7 650.8 1015.6 651.5 1016.2 652.6 1014.7 655.8 1013.2 658.9 1013.7 660 1014.4 660.7 1015.5 661.2 1018.6 659.7 1021.8 658.2 1022.9 658.8 1023.6 659.7 1024 660.8 1022.2 663.8 1020.3 666.7 1020.7 667.8 1021.3 668.6 1022.3 669.2 1025.6 668.1 1028.9 667.1 1029.9 667.8 1030.6 668.7 1030.8 669.9 1028.7 672.6 1026.4 675.3 1026.6 676.4 1027.2 677.3 1028 678 1031.5 677.4 1034.9 676.8 1035.8 677.6 1036.3 678.6 1036.4 679.8 1033.9 682.3 1031.4 684.6 1031.4 685.7 1031.9 686.7 1032.7 687.5 1036.1 687.3 1039.6 687.1 1040.4 688 1040.8 689.1 1040.8 690.3 1038 692.4 1035.2 694.5 1035.1 695.6 1035.4 696.6 1036 697.5 1039.5 697.7 1043 698 1043.7 699 1043.9 700.1 1043.7 701.3 1040.7 703.1 1037.6 704.7 1037.4 705.8 1037.6 706.9 1038.1 707.8 1041.6 708.5 1045 709.2 1045.5 710.3 1045.6 711.4 1045.3 712.6 1042.1 713.9 1038.8 715.2 1038.5 716.3 1038.5 717.3 1038.9 718.3Z"/>
<circle cx="955" cy="719.4" r="75.4"/>
<path d="M1156 665 1159.5 666.2 1159.9 667.4 1159.9 668.5 1159.4 669.7 1155.8 670.6 1152.2 671.3 1151.6 672.4 1151.5 673.4 1151.8 674.5 1155.1 676.1 1158.4 677.8 1158.6 679 1158.4 680.2 1157.7 681.3 1154 681.6 1150.4 681.8 1149.6 682.7 1149.4 683.7 1149.5 684.8 1152.5 686.9 1155.5 689.1 1155.5 690.4 1155.1 691.5 1154.3 692.4 1150.6 692.2 1146.9 691.8 1146.1 692.6 1145.6 693.5 1145.6 694.7 1148.3 697.2 1150.9 699.9 1150.7 701.1 1150.1 702.1 1149.1 702.9 1145.5 702.1 1142 701.2 1141 701.8 1140.4 702.7 1140.2 703.8 1142.4 706.7 1144.6 709.7 1144.2 711 1143.5 711.9 1142.4 712.5 1139 711.1 1135.6 709.6 1134.6 710.1 1133.9 710.9 1133.5 712 1135.2 715.2 1136.9 718.5 1136.3 719.7 1135.5 720.5 1134.3 720.9 1131.1 719 1128 717 1126.9 717.3 1126.1 718 1125.5 719 1126.7 722.4 1127.9 726 1127.1 727 1126.2 727.7 1124.9 727.9 1122.1 725.5 1119.3 723.1 1118.2 723.2 1117.3 723.7 1116.6 724.6 1117.2 728.3 1117.8 731.9 1116.9 732.8 1115.9 733.3 1114.6 733.4 1112.2 730.6 1109.8 727.7 1108.7 727.7 1107.7 728.1 1106.9 728.8 1106.9 732.5 1106.9 736.2 1105.9 737 1104.8 737.3 1103.5 737.2 1101.6 734 1099.7 730.8 1098.6 730.6 1097.6 730.8 1096.6 731.5 1096.1 735.1 1095.5 738.8 1094.4 739.4 1093.2 739.5 1092 739.2 1090.6 735.8 1089.2 732.3 1088.2 731.9 1087.1 732 1086.1 732.5 1085 736 1083.8 739.5 1082.6 739.9 1081.5 739.9 1080.3 739.4 1079.4 735.8 1078.7 732.2 1077.6 731.6 1076.6 731.5 1075.5 731.8 1073.9 735.1 1072.2 738.4 1071 738.6 1069.8 738.4 1068.7 737.7 1068.4 734 1068.2 730.4 1067.3 729.6 1066.3 729.4 1065.2 729.5 1063.1 732.5 1060.9 735.5 1059.6 735.5 1058.5 735.1 1057.6 734.3 1057.8 730.6 1058.2 726.9 1057.4 726.1 1056.5 725.6 1055.3 725.6 1052.8 728.3 1050.1 730.9 1048.9 730.7 1047.9 730.1 1047.1 729.1 1047.9 725.5 1048.8 722 1048.2 721 1047.3 720.4 1046.2 720.2 1043.3 722.4 1040.3 724.6 1039 724.2 1038.1 723.5 1037.5 722.4 1038.9 719 1040.4 715.6 1039.9 714.6 1039.1 713.9 1038 713.5 1034.8 715.2 1031.5 716.9 1030.3 716.3 1029.5 715.5 1029.1 714.3 1031 711.1 1033 708 1032.7 706.9 1032 706.1 1031 705.5 1027.6 706.7 1024 707.9 1023 707.1 1022.3 706.2 1022.1 704.9 1024.5 702.1 1026.9 699.3 1026.8 698.2 1026.3 697.3 1025.4 696.6 1021.7 697.2 1018.1 697.8 1017.2 696.9 1016.7 695.9 1016.6 694.6 1019.4 692.2 1022.3 689.8 1022.3 688.7 1021.9 687.7 1021.2 686.9 1017.5 686.9 1013.8 686.9 1013 685.9 1012.7 684.8 1012.8 683.5 1016 681.6 1019.2 679.7 1019.4 678.6 1019.2 677.6 1018.5 676.6 1014.9 676.1 1011.2 675.5 1010.6 674.4 1010.5 673.2 1010.8 672 1014.2 670.6 1017.7 669.2 1018.1 668.2 1018 667.1 1017.5 666.1 1014 665 1010.5 663.8 1010.1 662.6 1010.1 661.5 1010.6 660.3 1014.2 659.4 1017.8 658.7 1018.4 657.6 1018.5 656.6 1018.2 655.5 1014.9 653.9 1011.6 652.2 1011.4 651 1011.6 649.8 1012.3 648.7 1016 648.4 1019.6 648.2 1020.4 647.3 1020.6 646.3 1020.5 645.2 1017.5 643.1 1014.5 640.9 1014.5 639.6 1014.9 638.5 1015.7 637.6 1019.4 637.8 1023.1 638.2 1023.9 637.4 1024.4 636.5 1024.4 635.3 1021.7 632.8 1019.1 630.1 1019.3 628.9 1019.9 627.9 1020.9 627.1 1024.5 627.9 1028 628.8 1029 628.2 1029.6 627.3 1029.8 626.2 1027.6 623.3 1025.4 620.3 1025.8 619 1026.5 618.1 1027.6 617.5 1031 618.9 1034.4 620.4 1035.4 619.9 1036.1 619.1 1036.5 618 1034.8 614.8 1033.1 611.5 1033.7 610.3 1034.5 609.5 1035.7 609.1 1038.9 611 1042 613 1043.1 612.7 1043.9 612 1044.5 611 1043.3 607.6 1042.1 604 1042.9 603 1043.8 602.3 1045.1 602.1 1047.9 604.5 1050.7 606.9 1051.8 606.8 1052.7 606.3 1053.4 605.4 1052.8 601.7 1052.2 598.1 1053.1 597.2 1054.1 596.7 1055.4 596.6 1057.8 599.4 1060.2 602.3 1061.3 602.3 1062.3 601.9 1063.1 601.2 1063.1 597.5 1063.1 593.8 1064.1 593 1065.2 592.7 1066.5 592.8 1068.4 596 1070.3 599.2 1071.4 599.4 1072.4 599.2 1073.4 598.5 1073.9 594.9 1074.5 591.2 1075.6 590.6 1076.8 590.5 1078 590.8 1079.4 594.2 1080.8 597.7 1081.8 598.1 1082.9 598 1083.9 597.5 1085 594 1086.2 590.5 1087.4 590.1 1088.5 590.1 1089.7 590.6 1090.6 594.2 1091.3 597.8 1092.4 598.4 1093.4 598.5 1094.5 598.2 1096.1 594.9 1097.8 591.6 1099 591.4 1100.2 591.6 1101.3 592.3 1101.6 596 1101.8 599.6 1102.7 600.4 1103.7 600.6 1104.8 600.5 1106.9 597.5 1109.1 594.5 1110.4 594.5 1111.5 594.9 1112.4 595.7 1112.2 599.4 1111.8 603.1 1112.6 603.9 1113.5 604.4 1114.7 604.4 1117.2 601.7 1119.9 599.1 1121.1 599.3 1122.1 599.9 1122.9 600.9 1122.1 604.5 1121.2 608 1121.8 609 1122.7 609.6 1123.8 609.8 1126.7 607.6 1129.7 605.4 1131 605.8 1131.9 606.5 1132.5 607.6 1131.1 611 1129.6 614.4 1130.1 615.4 1130.9 616.1 1132 616.5 1135.2 614.8 1138.5 613.1 1139.7 613.7 1140.5 614.5 1140.9 615.7 1139 618.9 1137 622 1137.3 623.1 1138 623.9 1139 624.5 1142.4 623.3 1146 622.1 1147 622.9 1147.7 623.8 1147.9 625.1 1145.5 627.9 1143.1 630.7 1143.2 631.8 1143.7 632.7 1144.6 633.4 1148.3 632.8 1151.9 632.2 1152.8 633.1 1153.3 634.1 1153.4 635.4 1150.6 637.8 1147.7 640.2 1147.7 641.3 1148.1 642.3 1148.8 643.1 1152.5 643.1 1156.2 643.1 1157 644.1 1157.3 645.2 1157.2 646.5 1154 648.4 1150.8 650.3 1150.6 651.4 1150.8 652.4 1151.5 653.4 1155.1 653.9 1158.8 654.5 1159.4 655.6 1159.5 656.8 1159.2 658 1155.8 659.4 1152.3 660.8 1151.9 661.8 1152 662.9 1152.5 663.9Z"/>
<circle cx="1085" cy="665" r="44"/>
<path d="M993.6 491.5L888.8 683.3"/>
</g>
<path d="M54.5 99.9H1067" stroke="#E6DDBA" stroke-width="1.7" fill="none"/>
<path d="M797.8 299.7H1016.5999999999999A21 21 0 0 1 1037.6 320.7V418.5A21 21 0 0 1 1016.5999999999999 439.5H797.8A21 21 0 0 1 776.8 418.5V357.500L760.8 295L776.8 323.500V320.7A21 21 0 0 1 797.8 299.7Z" fill="#0CA3C6" stroke="#2C97BB" stroke-width="0.8"/>
<defs><linearGradient id="ga" gradientUnits="userSpaceOnUse" x1="-8" y1="380" x2="34" y2="352"><stop offset="0" stop-color="#3F6FB0"/><stop offset="0.5" stop-color="#5289CC"/><stop offset="1" stop-color="#3F6FB0"/></linearGradient></defs>
<path d="M78.7 280.7C70 278 62 277.5 56 278C42 279.5 30 285 22.5 291.4C14 298.5 9 307 6.7 313.4C4 320 1 327 -2 334L4 338C4.8 334 5 331 5.6 328C7 323 9 320 11.2 318C16 311 22 306 28 302C35 298 43 295.5 50.6 294.8C59 294.2 67 295 74.2 297Z" fill="#3B68A6"/>
<path d="M-4 325L4.5 325C4.5 330 4.8 335 5.6 339.6C6.6 346 8.5 351.5 11.2 356.5C14 362 18 367.5 22.5 372C25.5 375 29 378.3 32.6 381L36 372.8L46 393.6L26.4 403.2L28 397C22.5 394.5 18 391.5 14.6 388C11 385 8 381.5 5.6 378C3.5 375.5 1.5 373 -4 366Z" fill="url(#ga)" stroke="#3D6AA8" stroke-width="1.2"/>
<g fill="#000">
<path transform="translate(0 0)" d="M166.2 468.9L168.6 466.3C169.6 467.6 170.6 469.3 171.3 470.9C174.4 465.5 178.8 460.3 183.8 456.9L184.3 457.6C179.6 462.3 175.6 468.4 172.2 474.6L170.2 475C169.3 472.6 168 470.6 166.2 468.9Z"/>
<path transform="translate(0 32)" d="M166.2 468.9L168.6 466.3C169.6 467.6 170.6 469.3 171.3 470.9C174.4 465.5 178.8 460.3 183.8 456.9L184.3 457.6C179.6 462.3 175.6 468.4 172.2 474.6L170.2 475C169.3 472.6 168 470.6 166.2 468.9Z"/>
<path transform="translate(0 64)" d="M166.2 468.9L168.6 466.3C169.6 467.6 170.6 469.3 171.3 470.9C174.4 465.5 178.8 460.3 183.8 456.9L184.3 457.6C179.6 462.3 175.6 468.4 172.2 474.6L170.2 475C169.3 472.6 168 470.6 166.2 468.9Z"/>
</g>
<path d="M341.8 629.6L358.8 639.1L341.8 648.3L348.1 639.1Z" fill="#fff" stroke="#000" stroke-width="1.25" stroke-linejoin="miter"/>
<path d="M358.8 639.1L341.8 648.3L348.1 639.1Z" fill="#000"/>
<path d="M341.8 661.8L358.8 671.3L341.8 680.5L348.1 671.3Z" fill="#fff" stroke="#000" stroke-width="1.25" stroke-linejoin="miter"/>
<path d="M358.8 671.3L341.8 680.5L348.1 671.3Z" fill="#000"/>
<path d="M341.8 693.9L358.8 703.4L341.8 712.6L348.1 703.4Z" fill="#fff" stroke="#000" stroke-width="1.25" stroke-linejoin="miter"/>
<path d="M358.8 703.4L341.8 712.6L348.1 703.4Z" fill="#000"/>
<path d="M341.8 726.1L358.8 735.6L341.8 744.8L348.1 735.6Z" fill="#fff" stroke="#C00000" stroke-width="1.25" stroke-linejoin="miter"/>
<path d="M358.8 735.6L341.8 744.8L348.1 735.6Z" fill="#C00000"/>
<path d="M341.8 758.3L358.8 767.8L341.8 777L348.1 767.8Z" fill="#fff" stroke="#C00000" stroke-width="1.25" stroke-linejoin="miter"/>
<path d="M358.8 767.8L341.8 777L348.1 767.8Z" fill="#C00000"/>
<path d="M247.5 655.4H293.4V639.5L326.3 671.5L293.4 703.4V687.5H247.5Z" fill="#C00000"/>
<g transform="translate(80 565) scale(0.14378)">
<g stroke="#3F3F3F" stroke-width="55" stroke-linecap="round" fill="none">
<path d="M190 335L93 432"/><path d="M345 335L440 428"/>
<path d="M535 335L440 428"/><path d="M680 335L775 432"/>
</g>
<g fill="#3F3F3F">
<rect x="165" y="560" width="68" height="178" rx="32"/><rect x="290" y="560" width="66" height="178" rx="32"/>
<circle cx="265" cy="166" r="97"/>
<path d="M185 125C165 85 130 60 100 75C65 92 62 150 85 192C95 150 125 125 175 150Z"/>
<path d="M345 125C365 85 400 60 425 75C460 92 462 150 440 192C430 150 400 125 355 150Z"/>
<path d="M540 298H670Q702 298 702 330V705Q702 738 668 738Q636 738 636 705V545H575V705Q575 738 542 738Q508 738 508 705V330Q508 298 540 298Z"/>
<circle cx="607" cy="172" r="98"/>
</g>
<path d="M205 295Q230 291 242 303Q265 318 288 303Q300 291 325 295Q340 298 345 315L395 560Q398 577 380 577H145Q127 577 132 560L182 315Q187 298 205 295Z" fill="#5FA95C"/>
<circle cx="262" cy="395" r="14" fill="#3F6F3F"/>
<path d="M507 152C511 100 560 68 607 68C652 68 688 92 701 126H757Q766 126 766 134.500Q766 143 757 143H707L708 152Z" fill="#5FA95C"/>
</g>
<g font-size="38.2" font-weight="bold" fill="#000000" stroke="#000000" stroke-width="0.2">
<text x="64" y="58.2" textLength="162.6" lengthAdjust="spacingAndGlyphs">Pratiques</text>
<text x="236" y="58.2" textLength="43.2" lengthAdjust="spacingAndGlyphs">de</text>
<text x="288.6" y="58.2" textLength="173.6" lengthAdjust="spacingAndGlyphs">télétravail</text>
<text x="471.6" y="58.2" textLength="144.5" lengthAdjust="spacingAndGlyphs">pendant</text>
<text x="625.4" y="58.2" textLength="31.1" lengthAdjust="spacingAndGlyphs">le</text>
<text x="665.9" y="58.2" textLength="218.9" lengthAdjust="spacingAndGlyphs">confinement</text>
</g>
<g font-size="38.1" font-weight="bold" fill="#ECAC4C" stroke="#ECAC4C" stroke-width="0.2">
<text x="62" y="158.9" textLength="38" lengthAdjust="spacingAndGlyphs">La</text>
<text x="109.3" y="158.9" textLength="155.1" lengthAdjust="spacingAndGlyphs">présence</text>
<text x="273.8" y="158.9" textLength="169.2" lengthAdjust="spacingAndGlyphs">d’enfants,</text>
<text x="452.4" y="158.9" textLength="65.3" lengthAdjust="spacingAndGlyphs">une</text>
<text x="527.1" y="158.9" textLength="172.5" lengthAdjust="spacingAndGlyphs">spécificité</text>
<text x="709" y="158.9" textLength="44.5" lengthAdjust="spacingAndGlyphs">du</text>
<text x="762.8" y="158.9" textLength="218.4" lengthAdjust="spacingAndGlyphs">confinement</text>
</g>
<g font-size="49.1" font-weight="bold" fill="#12A0C6" stroke="#12A0C6" stroke-width="0.2">
<text x="89.8" y="230.6" textLength="93" lengthAdjust="spacingAndGlyphs">65%</text>
</g>
<g font-size="30" font-weight="bold" fill="#12A0C6" stroke="#12A0C6" stroke-width="0.45">
<text x="194.6" y="230.6" textLength="46.9" lengthAdjust="spacingAndGlyphs">des</text>
<text x="248.9" y="230.6" textLength="155.1" lengthAdjust="spacingAndGlyphs">répondants</text>
<text x="411.4" y="230.6" textLength="46" lengthAdjust="spacingAndGlyphs">ont</text>
<text x="464.8" y="230.6" textLength="35" lengthAdjust="spacingAndGlyphs">pu</text>
<text x="507.1" y="230.6" textLength="29.4" lengthAdjust="spacingAndGlyphs">se</text>
<text x="543.9" y="230.6" textLength="130.4" lengthAdjust="spacingAndGlyphs">consacrer</text>
<text x="681.6" y="230.6" textLength="33.6" lengthAdjust="spacingAndGlyphs">au</text>
<text x="722.6" y="230.6" textLength="136.3" lengthAdjust="spacingAndGlyphs">télétravail</text>
<text x="866.2" y="230.6" textLength="165.7" lengthAdjust="spacingAndGlyphs">uniquement</text>
</g>
<g font-size="49.1" font-weight="bold" fill="#12A0C6" stroke="#12A0C6" stroke-width="0.2">
<text x="89.2" y="294.9" textLength="93" lengthAdjust="spacingAndGlyphs">35%</text>
</g>
<g font-size="30" font-weight="bold" fill="#12A0C6" stroke="#12A0C6" stroke-width="0.45">
<text x="194.6" y="294.9" textLength="167.8" lengthAdjust="spacingAndGlyphs">s’occupaient</text>
<text x="369.8" y="294.9" textLength="33.9" lengthAdjust="spacingAndGlyphs">de</text>
<text x="411" y="294.9" textLength="66.1" lengthAdjust="spacingAndGlyphs">leurs</text>
<text x="484.5" y="294.9" textLength="101" lengthAdjust="spacingAndGlyphs">enfants</text>
<text x="592.9" y="294.9" textLength="33.9" lengthAdjust="spacingAndGlyphs">en</text>
<text x="634.2" y="294.9" textLength="85.8" lengthAdjust="spacingAndGlyphs">même</text>
<text x="727.4" y="294.9" textLength="84.1" lengthAdjust="spacingAndGlyphs">temps</text>
</g>
<g font-size="24.5" font-weight="normal" fill="#000000" stroke="#000000" stroke-width="0.45">
<text x="787.2" y="328.9" textLength="46.1" lengthAdjust="spacingAndGlyphs">38%</text>
<text x="839.3" y="328.9" textLength="37.7" lengthAdjust="spacingAndGlyphs">des</text>
<text x="883.1" y="328.9" textLength="87.1" lengthAdjust="spacingAndGlyphs">femmes</text>
</g>
<g font-size="24.5" font-weight="normal" fill="#000000" stroke="#000000" stroke-width="0.45">
<text x="787.2" y="360.9" textLength="46.1" lengthAdjust="spacingAndGlyphs">30%</text>
<text x="839.3" y="360.9" textLength="37.7" lengthAdjust="spacingAndGlyphs">des</text>
<text x="883.1" y="360.9" textLength="94.4" lengthAdjust="spacingAndGlyphs">hommes</text>
</g>
<g font-size="24.5" font-weight="normal" fill="#000000" stroke="#000000" stroke-width="0.45">
<text x="787.2" y="392.9" textLength="46.1" lengthAdjust="spacingAndGlyphs">59%</text>
<text x="839.3" y="392.9" textLength="37.7" lengthAdjust="spacingAndGlyphs">des</text>
<text x="883.1" y="392.9" textLength="62.2" lengthAdjust="spacingAndGlyphs">35-44</text>
<text x="951.4" y="392.9" textLength="37.2" lengthAdjust="spacingAndGlyphs">ans</text>
</g>
<g font-size="24.5" font-weight="normal" fill="#000000" stroke="#000000" stroke-width="0.45">
<text x="788.2" y="424.9" textLength="46.1" lengthAdjust="spacingAndGlyphs">60%</text>
<text x="840.3" y="424.9" textLength="82.1" lengthAdjust="spacingAndGlyphs">parents</text>
<text x="928.5" y="424.9" textLength="13.3" lengthAdjust="spacingAndGlyphs">≤</text>
<text x="947.8" y="424.9" textLength="76.2" lengthAdjust="spacingAndGlyphs">collège</text>
</g>
<g font-size="38.2" font-weight="bold" fill="#1F3864" stroke="#1F3864" stroke-width="0.2">
<text x="57.4" y="409.9" textLength="83.3" lengthAdjust="spacingAndGlyphs">L’âge</text>
<text x="150.1" y="409.9" textLength="59.7" lengthAdjust="spacingAndGlyphs">des</text>
<text x="219.2" y="409.9" textLength="128.7" lengthAdjust="spacingAndGlyphs">enfants</text>
</g>
<g font-size="24.4" font-weight="bold" fill="#1F3864" stroke="#1F3864" stroke-width="0.45">
<text x="56.6" y="445.9" textLength="13.2" lengthAdjust="spacingAndGlyphs">=</text>
<text x="75.8" y="445.9" textLength="78" lengthAdjust="spacingAndGlyphs">facteur</text>
<text x="159.8" y="445.9" textLength="97.3" lengthAdjust="spacingAndGlyphs">essentiel</text>
<text x="263.1" y="445.9" textLength="52.1" lengthAdjust="spacingAndGlyphs">pour</text>
<text x="321.2" y="445.9" textLength="93.1" lengthAdjust="spacingAndGlyphs">disposer</text>
<text x="420.3" y="445.9" textLength="27.6" lengthAdjust="spacingAndGlyphs">de</text>
<text x="453.9" y="445.9" textLength="100.6" lengthAdjust="spacingAndGlyphs">créneaux</text>
<text x="560.5" y="445.9" textLength="27.6" lengthAdjust="spacingAndGlyphs">de</text>
<text x="594.1" y="445.9" textLength="110.9" lengthAdjust="spacingAndGlyphs">télétravail</text>
<text x="710.9" y="445.9" textLength="7.3" lengthAdjust="spacingAndGlyphs">:</text>
</g>
<g font-size="24.5" font-weight="normal" fill="#000000" stroke="#000000" stroke-width="0.45">
<text x="197.2" y="477.6" textLength="46.1" lengthAdjust="spacingAndGlyphs">25%</text>
<text x="249.3" y="477.6" textLength="37.7" lengthAdjust="spacingAndGlyphs">des</text>
<text x="293.1" y="477.6" textLength="82.1" lengthAdjust="spacingAndGlyphs">parents</text>
<text x="381.2" y="477.6" textLength="99.4" lengthAdjust="spacingAndGlyphs">d’enfants</text>
<text x="486.7" y="477.6" textLength="27.3" lengthAdjust="spacingAndGlyphs">en</text>
<text x="520" y="477.6" textLength="130.7" lengthAdjust="spacingAndGlyphs">élémentaire</text>
<text x="656.8" y="477.6" textLength="28.1" lengthAdjust="spacingAndGlyphs">ou</text>
<text x="690.9" y="477.6" textLength="65.9" lengthAdjust="spacingAndGlyphs">moins</text>
</g>
<g font-size="24.5" font-weight="normal" fill="#000000" stroke="#000000" stroke-width="0.45">
<text x="198.2" y="509.6" textLength="46.1" lengthAdjust="spacingAndGlyphs">45%</text>
<text x="250.3" y="509.6" textLength="37.7" lengthAdjust="spacingAndGlyphs">des</text>
<text x="294.1" y="509.6" textLength="82.1" lengthAdjust="spacingAndGlyphs">parents</text>
<text x="382.2" y="509.6" textLength="27.3" lengthAdjust="spacingAndGlyphs">de</text>
<text x="415.6" y="509.6" textLength="107" lengthAdjust="spacingAndGlyphs">collégiens</text>
</g>
<g font-size="24.5" font-weight="normal" fill="#000000" stroke="#000000" stroke-width="0.45">
<text x="197.2" y="541.6" textLength="46.1" lengthAdjust="spacingAndGlyphs">88%</text>
<text x="249.3" y="541.6" textLength="37.7" lengthAdjust="spacingAndGlyphs">des</text>
<text x="293.1" y="541.6" textLength="82.1" lengthAdjust="spacingAndGlyphs">parents</text>
<text x="381.2" y="541.6" textLength="27.3" lengthAdjust="spacingAndGlyphs">de</text>
<text x="414.6" y="541.6" textLength="80.1" lengthAdjust="spacingAndGlyphs">lycéens</text>
<text x="500.7" y="541.6" textLength="28.1" lengthAdjust="spacingAndGlyphs">ou</text>
<text x="534.9" y="541.6" textLength="44.6" lengthAdjust="spacingAndGlyphs">plus</text>
</g>
<g font-size="32.7" font-weight="bold" fill="#C00000" stroke="#C00000" stroke-width="0.45">
<text x="234.4" y="613.5" textLength="211.2" lengthAdjust="spacingAndGlyphs">Conséquences</text>
<text x="453.7" y="613.5" textLength="9.8" lengthAdjust="spacingAndGlyphs">:</text>
</g>
<g font-size="24.5" font-weight="normal" fill="#000000" stroke="#000000" stroke-width="0.45">
<text x="373" y="647.7" textLength="46.1" lengthAdjust="spacingAndGlyphs">62%</text>
<text x="425.1" y="647.7" textLength="7.1" lengthAdjust="spacingAndGlyphs">:</text>
<text x="438.3" y="647.7" textLength="74.4" lengthAdjust="spacingAndGlyphs">impact</text>
<text x="518.8" y="647.7" textLength="75.1" lengthAdjust="spacingAndGlyphs">négatif</text>
<text x="599.9" y="647.7" textLength="33.8" lengthAdjust="spacingAndGlyphs">sur</text>
</g>
<g font-size="24.5" font-weight="bold" fill="#C00000" stroke="#C00000" stroke-width="0.45">
<text x="639.7" y="647.7" textLength="149.3" lengthAdjust="spacingAndGlyphs">l’organisation</text>
<text x="795" y="647.7" textLength="27.8" lengthAdjust="spacingAndGlyphs">de</text>
<text x="828.8" y="647.7" textLength="43.8" lengthAdjust="spacingAndGlyphs">leur</text>
<text x="878.6" y="647.7" textLength="69.4" lengthAdjust="spacingAndGlyphs">travail</text>
</g>
<g font-size="24.5" font-weight="normal" fill="#000000" stroke="#000000" stroke-width="0.45">
<text x="373" y="679.9" textLength="46.1" lengthAdjust="spacingAndGlyphs">70%</text>
<text x="425.1" y="679.9" textLength="7.1" lengthAdjust="spacingAndGlyphs">:</text>
<text x="438.3" y="679.9" textLength="115.4" lengthAdjust="spacingAndGlyphs">problèmes</text>
<text x="559.7" y="679.9" textLength="27.3" lengthAdjust="spacingAndGlyphs">de</text>
</g>
<g font-size="24.5" font-weight="bold" fill="#C00000" stroke="#C00000" stroke-width="0.45">
<text x="593" y="679.9" textLength="131.1" lengthAdjust="spacingAndGlyphs">promiscuité</text>
</g>
<g font-size="24.5" font-weight="normal" fill="#000000" stroke="#000000" stroke-width="0.45">
<text x="730.2" y="679.9" textLength="54.2" lengthAdjust="spacingAndGlyphs">(14%</text>
<text x="790.4" y="679.9" textLength="51.4" lengthAdjust="spacingAndGlyphs">pour</text>
<text x="847.8" y="679.9" textLength="29.8" lengthAdjust="spacingAndGlyphs">les</text>
<text x="883.7" y="679.9" textLength="76.5" lengthAdjust="spacingAndGlyphs">autres)</text>
</g>
<g font-size="24.5" font-weight="normal" fill="#000000" stroke="#000000" stroke-width="0.45">
<text x="373" y="712" textLength="46.1" lengthAdjust="spacingAndGlyphs">23%</text>
<text x="425.1" y="712" textLength="7.1" lengthAdjust="spacingAndGlyphs">:</text>
</g>
<g font-size="24.5" font-weight="bold" fill="#C00000" stroke="#C00000" stroke-width="0.45">
<text x="438.3" y="712" textLength="93.2" lengthAdjust="spacingAndGlyphs">tensions</text>
<text x="537.5" y="712" textLength="52.4" lengthAdjust="spacingAndGlyphs">dans</text>
<text x="596" y="712" textLength="20" lengthAdjust="spacingAndGlyphs">le</text>
<text x="622" y="712" textLength="57.5" lengthAdjust="spacingAndGlyphs">foyer</text>
</g>
<g font-size="24.5" font-weight="normal" fill="#000000" stroke="#000000" stroke-width="0.45">
<text x="685.5" y="712" textLength="40.7" lengthAdjust="spacingAndGlyphs">(5%</text>
<text x="732.2" y="712" textLength="86.3" lengthAdjust="spacingAndGlyphs">/autres)</text>
</g>
<g font-size="24.5" font-weight="normal" fill="#000000" stroke="#000000" stroke-width="0.45">
<text x="379" y="744.2" textLength="46.1" lengthAdjust="spacingAndGlyphs">57%</text>
</g>
<g font-size="24.5" font-weight="bold" fill="#C00000" stroke="#C00000" stroke-width="0.45">
<text x="431.1" y="744.2" textLength="45.8" lengthAdjust="spacingAndGlyphs">plus</text>
<text x="483" y="744.2" textLength="27.8" lengthAdjust="spacingAndGlyphs">de</text>
<text x="516.8" y="744.2" textLength="68.9" lengthAdjust="spacingAndGlyphs">temps</text>
</g>
<g font-size="24.5" font-weight="normal" fill="#000000" stroke="#000000" stroke-width="0.45">
<text x="591.7" y="744.2" textLength="51.4" lengthAdjust="spacingAndGlyphs">pour</text>
<text x="649.1" y="744.2" textLength="52.7" lengthAdjust="spacingAndGlyphs">leurs</text>
<text x="707.8" y="744.2" textLength="86" lengthAdjust="spacingAndGlyphs">proches</text>
<text x="799.8" y="744.2" textLength="54.2" lengthAdjust="spacingAndGlyphs">(27%</text>
<text x="860" y="744.2" textLength="51.4" lengthAdjust="spacingAndGlyphs">pour</text>
<text x="917.5" y="744.2" textLength="29.8" lengthAdjust="spacingAndGlyphs">les</text>
<text x="953.3" y="744.2" textLength="76.5" lengthAdjust="spacingAndGlyphs">autres)</text>
</g>
<g font-size="24.5" font-weight="bold" fill="#C00000" stroke="#C00000" stroke-width="0.45">
<text x="372.6" y="776.4" textLength="37.5" lengthAdjust="spacingAndGlyphs">Pas</text>
<text x="416.1" y="776.4" textLength="126.5" lengthAdjust="spacingAndGlyphs">d’incidence</text>
<text x="548.6" y="776.4" textLength="34.4" lengthAdjust="spacingAndGlyphs">sur</text>
<text x="589.1" y="776.4" textLength="20" lengthAdjust="spacingAndGlyphs">le</text>
<text x="615.1" y="776.4" textLength="84" lengthAdjust="spacingAndGlyphs">volonté</text>
<text x="705.2" y="776.4" textLength="27.8" lengthAdjust="spacingAndGlyphs">de</text>
<text x="738.9" y="776.4" textLength="118.9" lengthAdjust="spacingAndGlyphs">poursuivre</text>
<text x="863.8" y="776.4" textLength="20" lengthAdjust="spacingAndGlyphs">le</text>
<text x="889.8" y="776.4" textLength="111.6" lengthAdjust="spacingAndGlyphs">télétravail</text>
</g>
<g font-size="24.5" font-weight="normal" fill="#C00000" stroke="#C00000" stroke-width="0.45">
<text x="185" y="757.7" textLength="21.7" lengthAdjust="spacingAndGlyphs">Et</text>
<text x="212.7" y="757.7" textLength="95.5" lengthAdjust="spacingAndGlyphs">pourtant</text>
</g>
</svg></body></html>
